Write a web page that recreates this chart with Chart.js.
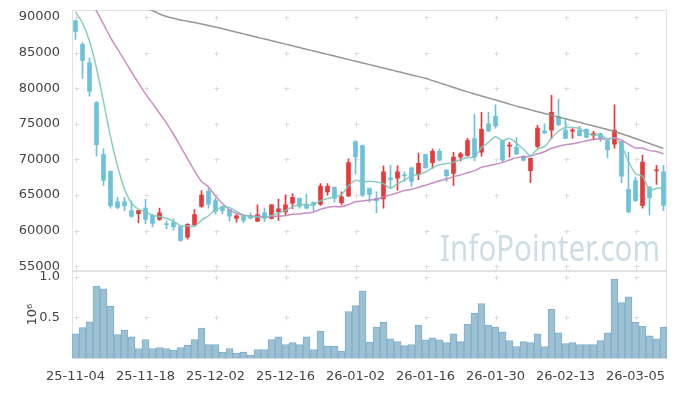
<!DOCTYPE html>
<html>
<head>
<meta charset="utf-8">
<script src="https://cdn.jsdelivr.net/npm/chart.js@4.4.1/dist/chart.umd.min.js"></script>
<style>
  html, body { margin: 0; padding: 0; background: #fff; }
</style>
</head>
<body>
<canvas id="chart" width="677" height="396"></canvas>
<script>
const dates = [
  '25-11-04','25-11-05','25-11-06','25-11-07','25-11-10','25-11-11','25-11-12','25-11-13','25-11-14','25-11-17',
  '25-11-18','25-11-19','25-11-20','25-11-21','25-11-24','25-11-25','25-11-26','25-11-27','25-11-28','25-12-01',
  '25-12-02','25-12-03','25-12-04','25-12-05','25-12-08','25-12-09','25-12-10','25-12-11','25-12-12','25-12-15',
  '25-12-16','25-12-17','25-12-18','25-12-19','25-12-22','25-12-23','25-12-24','25-12-26','25-12-29','25-12-30',
  '26-01-02','26-01-05','26-01-06','26-01-07','26-01-08','26-01-09','26-01-12','26-01-13','26-01-14','26-01-15',
  '26-01-16','26-01-19','26-01-20','26-01-21','26-01-22','26-01-23','26-01-26','26-01-27','26-01-28','26-01-29',
  '26-01-30','26-02-02','26-02-03','26-02-04','26-02-05','26-02-06','26-02-09','26-02-10','26-02-11','26-02-12',
  '26-02-13','26-02-19','26-02-20','26-02-23','26-02-24','26-02-25','26-02-26','26-02-27','26-03-03','26-03-04',
  '26-03-05','26-03-06','26-03-09','26-03-10','26-03-11'
];

const openPrices = [
  89440,86160,83570,77960,70680,68310,64030,64070,62800,62390,
  63170,62160,61570,60900,61160,60570,59070,60790,63390,65530,
  64210,63390,62940,61710,61980,62090,61340,62490,61710,62620,
  62620,63850,64530,63710,63980,63710,65440,66080,63940,64890,
  72500,71950,65900,64530,64440,67400,67350,67750,68820,67850,
  70680,69540,71130,68500,68030,70310,70550,72910,71000,75000,
  76050,72640,71870,71680,70450,68400,71820,74000,74100,76000,
  74100,73950,74100,74230,73410,73630,72640,72130,72500,65810,
  67040,63530,66120,68400,68270
];
const highPrices = [
  89600,86400,84210,78100,71500,68350,64670,64670,64160,62850,
  64400,62250,63170,61390,61670,60600,60990,62940,65620,65980,
  64620,63500,63000,62250,62050,62490,63620,63170,63650,64430,
  64980,65210,64600,65120,64050,66590,66590,66150,65440,70080,
  72600,72000,66000,65440,69090,69180,69090,68270,68850,70900,
  70750,71500,71500,68550,71000,71000,72950,76280,76600,76600,
  77650,72700,72410,73050,70500,70200,74780,75000,79000,78420,
  75680,74320,74640,74300,73960,73700,72700,77650,72550,71000,
  67500,70590,66200,69180,69180
];
const lowPrices = [
  86840,81380,78880,70450,66350,63170,63070,62800,61890,61070,
  60990,60520,61430,60250,60070,58470,58800,60660,63250,63170,
  62350,62350,61340,61200,61120,61650,61260,61260,61650,61430,
  62160,63070,63170,63030,62800,63530,64980,63980,63620,64750,
  67950,64750,63980,62490,63170,65900,65670,66900,66220,67170,
  68750,68730,69800,66900,66350,69770,70450,69770,70450,73900,
  74400,69630,70310,70650,69800,66720,71590,73650,72950,74700,
  72900,72950,73250,73000,72730,72500,70220,71590,66720,62500,
  64100,63170,62160,66500,62800
];
const closePrices = [
  87980,83880,79560,72050,67040,63480,63250,63480,61980,62800,
  61570,61030,62490,60850,60520,58610,60890,62250,64980,63710,
  62710,62800,62030,62090,61430,61710,62250,61710,63620,63070,
  63620,64670,63390,63170,63530,66260,66220,64530,64750,69540,
  70360,64980,65080,64210,68270,67170,68270,67700,66900,69450,
  68850,71130,69900,67720,70310,70770,72640,70310,74230,74000,
  74690,69900,71950,70770,69860,70140,74410,73730,76600,74860,
  72950,74150,73320,73090,73630,72950,71370,74100,67630,62620,
  64210,69630,64620,68400,63530
];

const ma5 = [
  90700,89130,86610,82790,78100,73200,69080,65860,63850,63000,
  62620,62170,61970,61750,61290,60700,60670,60620,61450,62090,
  62910,63290,63250,62670,62210,62010,61900,61840,62140,62470,
  62850,63340,63670,63580,63680,64200,64510,64740,65060,66260,
  67080,66830,66940,66830,66580,65940,66600,67120,67660,67900,
  68230,68810,69250,69410,69580,69970,70270,70350,71650,72390,
  73170,72630,72950,72260,71430,70520,71430,71780,72950,73950,
  74510,74460,74380,73670,73430,73430,72870,73030,71940,69730,
  67990,67640,65740,65900,66080
];
const ma20 = [
  97000,95000,92900,90800,89000,87100,85500,83900,82300,80700,
  79200,77860,76480,75100,73530,71820,70110,68400,66900,66120,
  64860,63800,62930,62430,62150,62060,62010,61920,62000,62020,
  62120,62300,62350,62460,62610,62990,63260,63380,63360,63660,
  64040,64150,64300,64410,64750,65020,65320,65620,65780,66100,
  66370,66690,67010,67240,67580,67810,68130,68420,68890,69110,
  69330,69580,69920,70250,70330,70470,70780,71080,71570,71840,
  72040,72190,72370,72630,72800,72910,72850,73040,72710,72140,
  71610,71600,71230,71110,70800
];
const ma60 = [
  95200,94800,94400,94000,93600,93200,92800,92400,92000,91600,
  91250,90900,90400,90050,89800,89580,89380,89200,89000,88780,
  88580,88340,88100,87860,87620,87380,87140,86900,86660,86420,
  86180,85940,85700,85460,85220,84980,84740,84500,84260,84020,
  83780,83540,83300,83060,82820,82580,82340,82100,81860,81620,
  81380,81060,80740,80420,80100,79780,79480,79190,78900,78620,
  78330,78050,77760,77480,77200,76950,76700,76450,76200,75950,
  75700,75450,75200,74950,74700,74450,74200,73920,73600,73280,
  72930,72580,72230,71880,71550
];

// volume in millions of shares
const volumes = [
  0.300,0.375,0.446,0.883,0.851,0.637,0.292,0.347,0.264,0.121,
  0.229,0.121,0.133,0.121,0.098,0.133,0.161,0.229,0.371,0.169,
  0.169,0.077,0.121,0.065,0.077,0.042,0.109,0.109,0.229,0.264,
  0.169,0.193,0.169,0.264,0.109,0.335,0.149,0.149,0.089,0.573,
  0.645,0.823,0.196,0.383,0.442,0.240,0.205,0.157,0.169,0.407,
  0.228,0.252,0.228,0.193,0.300,0.205,0.419,0.550,0.669,0.407,
  0.383,0.324,0.217,0.145,0.205,0.193,0.300,0.145,0.598,0.312,
  0.181,0.193,0.169,0.169,0.169,0.217,0.312,0.967,0.681,0.752,
  0.442,0.395,0.276,0.240,0.383
];

const priceTicks = [55000, 60000, 65000, 70000, 75000, 80000, 85000, 90000];
const volumeTicks = [0.5, 1.0];

const upColor = '#e8393b';
const downColor = '#6dc2db';
const candleColors = closePrices.map((c, i) => c >= openPrices[i] ? upColor : downColor);

const tickFont = { family: '"DejaVu Sans", sans-serif', size: 13 };
const tickColor = '#444444';

// frames, "+" grid marks and the watermark
const panelDecor = {
  id: 'panelDecor',
  beforeDatasetsDraw(chart) {
    const { ctx, chartArea, scales } = chart;
    const { x, y, yv } = scales;
    ctx.save();

    const text = 'InfoPointer.com';
    ctx.font = '36px "Noto Sans", sans-serif';
    ctx.fillStyle = '#cddde6';
    ctx.textBaseline = 'alphabetic';
    const tw = ctx.measureText(text).width;
    const want = 220;
    ctx.translate(chartArea.right - 7 - want, y.bottom - 10);
    ctx.scale(want / tw, 1);
    ctx.fillText(text, 0, 0);
    ctx.restore();

    ctx.save();
    ctx.strokeStyle = '#dcdcdc';
    ctx.lineWidth = 1;
    const plus = (px, py) => {
      px = Math.round(px) + 0.5;
      py = Math.round(py) + 0.5;
      ctx.beginPath();
      ctx.moveTo(px - 2, py); ctx.lineTo(px + 3, py);
      ctx.moveTo(px, py - 2); ctx.lineTo(px, py + 3);
      ctx.stroke();
    };
    for (let i = 0; i < dates.length; i += 10) {
      const px = x.getPixelForValue(i);
      priceTicks.forEach(v => plus(px, y.getPixelForValue(v)));
      volumeTicks.forEach(v => plus(px, yv.getPixelForValue(v)));
    }

    ctx.strokeStyle = '#e2e2e2';
    const l = Math.round(chartArea.left) + 0.5;
    const r = Math.round(chartArea.right) - 0.5;
    [y, yv].forEach(s => {
      ctx.strokeRect(l, Math.round(s.top) + 0.5, r - l, Math.round(s.bottom - s.top) - 1);
    });
    ctx.restore();
  }
};

const fixWidth = (scale) => {
  scale.width = 72;
  scale.paddingTop = 0;
  scale.paddingBottom = 0;
};

new Chart(document.getElementById('chart'), {
  type: 'bar',
  data: {
    labels: dates,
    datasets: [
      {
        type: 'line', label: 'MA5', data: ma5, yAxisID: 'y',
        borderColor: 'rgba(125,200,185,0.9)', borderWidth: 1.5,
        pointRadius: 0, tension: 0.3, order: 0
      },
      {
        type: 'line', label: 'MA20', data: ma20, yAxisID: 'y',
        borderColor: 'rgba(196,130,192,0.9)', borderWidth: 1.5,
        pointRadius: 0, tension: 0.3, order: 0
      },
      {
        type: 'line', label: 'MA60', data: ma60, yAxisID: 'y',
        borderColor: 'rgba(140,140,140,0.9)', borderWidth: 1.5,
        pointRadius: 0, tension: 0.3, order: 0
      },
      {
        label: 'body', yAxisID: 'y', grouped: false, order: 1,
        data: openPrices.map((o, i) => [o, closePrices[i]]),
        backgroundColor: candleColors, barThickness: 4, minBarLength: 1
      },
      {
        label: 'wick', yAxisID: 'y', grouped: false, order: 2,
        data: lowPrices.map((lo, i) => [lo, highPrices[i]]),
        backgroundColor: candleColors, barThickness: 1
      },
      {
        label: 'volume', yAxisID: 'yv', grouped: false, order: 3,
        data: volumes,
        backgroundColor: '#9dc0d3', borderColor: '#7eaecb', borderWidth: 1,
        barPercentage: 1, categoryPercentage: 1
      }
    ]
  },
  options: {
    responsive: false,
    animation: false,
    layout: { padding: { top: 10, right: 10, bottom: 10, left: 0 } },
    plugins: { legend: { display: false }, tooltip: { enabled: false } },
    scales: {
      x: {
        type: 'category',
        offset: true,
        grid: { display: false },
        border: { display: false },
        ticks: {
          autoSkip: false, maxRotation: 0, padding: 2,
          color: tickColor, font: tickFont,
          callback: (v, i) => i % 10 === 0 ? dates[i] : null
        }
      },
      yv: {
        position: 'left', stack: 'panels', stackWeight: 90,
        min: 0, max: 1.07,
        grid: { display: false },
        border: { display: false },
        afterBuildTicks: s => { s.ticks = volumeTicks.map(v => ({ value: v })); },
        afterFit: fixWidth,
        ticks: {
          padding: 4, color: tickColor, font: tickFont,
          callback: v => v.toFixed(1)
        },
        title: {
          display: true, text: '10⁶', color: tickColor,
          font: tickFont, padding: { top: 25, bottom: 0 }
        }
      },
      y: {
        position: 'left', stack: 'panels', stackWeight: 268,
        min: 54360, max: 90970,
        grid: { display: false },
        border: { display: false },
        afterBuildTicks: s => { s.ticks = priceTicks.map(v => ({ value: v })); },
        afterFit: fixWidth,
        ticks: {
          padding: 4, color: tickColor, font: tickFont,
          callback: v => String(v)
        }
      }
    }
  },
  plugins: [panelDecor]
});
</script>
</body>
</html>
